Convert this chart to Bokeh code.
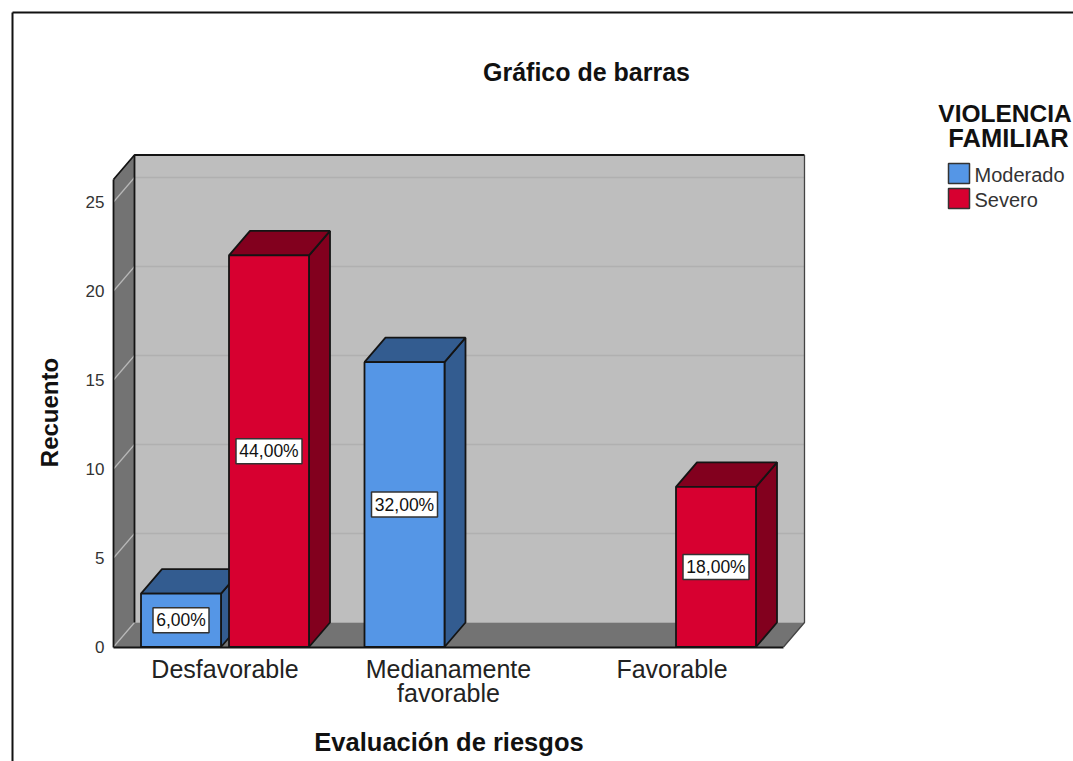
from math import pi
from bokeh.plotting import figure
from bokeh.models import Range1d, FixedTicker
from bokeh.core.properties import value
from bokeh.embed import file_html
from bokeh.resources import INLINE

# ---- data ----
categories = ["Desfavorable", "Medianamente\nfavorable", "Favorable"]
series_names = ["Moderado", "Severo"]
moderado = [3, 16, 0]
severo = [22, 0, 9]
moderado_labels = ["6,00%", "32,00%", ""]
severo_labels = ["44,00%", "", "18,00%"]
y_ticks = [0, 5, 10, 15, 20, 25]
title_text = "Gráfico de barras"
x_title = "Evaluación de riesgos"
y_title = "Recuento"
legend_title = ["VIOLENCIA", "FAMILIAR"]

# ---- style and layout ----
W, H = 1073, 761
PAGE = 0
FONT = value("Liberation Sans")
BLUE, BLUE_D = "#5596E6", "#335C90"
RED, RED_D = "#D70030", "#82001E"
WALL, SIDE = "#BEBEBE", "#737373"
EDGE = "#141414"
px_per_cat, px_per_val = 223.5, 17.8
x0_px, y0_px = 224.5, 646.5


def X(px):
    return (px - x0_px) / px_per_cat


def Y(py):
    return (y0_px - py) / px_per_val


DX = 21 / px_per_cat
DY = 24.5 / px_per_val
BAR = 80 / px_per_cat
OFF = 44 / px_per_cat
AX_L, AX_R = X(113), X(783)
Y_TOP = Y(179)

p = figure(
    width=W, height=H, output_backend="svg", toolbar_location=None,
    x_range=Range1d(X(PAGE), X(PAGE + W)),
    y_range=Range1d(Y(PAGE + H), Y(PAGE)),
    min_border=0, min_border_left=0, min_border_right=0,
    min_border_top=0, min_border_bottom=0,
    background_fill_color="white", border_fill_color="white",
)
p.outline_line_color = None
p.grid.visible = False

# picture frame
p.line([X(12), X(12)], [Y(12), Y(770)], line_color="#111111", line_width=2)
p.line([X(12), X(1080)], [Y(12), Y(12)], line_color="#111111", line_width=2)

# chart box
p.patch([AX_L + DX, AX_R + DX, AX_R + DX, AX_L + DX],
        [DY, DY, Y_TOP + DY, Y_TOP + DY], fill_color=WALL, line_color=None)
p.patch([AX_L, AX_R, AX_R + DX, AX_L + DX], [0, 0, DY, DY], fill_color=SIDE, line_color=None)
p.patch([AX_L, AX_L + DX, AX_L + DX, AX_L], [0, DY, Y_TOP + DY, Y_TOP],
        fill_color=SIDE, line_color=None)
for t in y_ticks:
    p.line([AX_L, AX_L + DX], [t, t + DY], line_color="#B8B8B8", line_width=1.2)
    if t:
        p.line([AX_L + DX, AX_R + DX], [t + DY, t + DY], line_color="#B0B0B0", line_width=1.5)
p.line([AX_L, AX_L + DX, AX_R + DX], [Y_TOP, Y_TOP + DY, Y_TOP + DY], line_color=EDGE, line_width=1.8)
p.line([AX_L + DX, AX_L + DX], [DY, Y_TOP + DY], line_color=EDGE, line_width=1.8)
p.line([AX_R + DX, AX_R + DX, AX_R], [Y_TOP + DY, DY, 0], line_color="#444444", line_width=1.3)


def bar(xc, v, front, dark):
    l, r = xc - BAR / 2, xc + BAR / 2
    p.patch([r, r + DX, r + DX, r], [0, DY, v + DY, v], fill_color=dark, line_color=EDGE, line_width=1.8)
    p.patch([l, l + DX, r + DX, r], [v, v + DY, v + DY, v], fill_color=dark, line_color=EDGE, line_width=1.8)
    p.quad(left=[l], right=[r], bottom=[0], top=[v], fill_color=front, line_color=EDGE, line_width=1.8)


label_w = {"6,00%": 56}
spec = []
for i in range(len(categories)):
    for s, vals, labs, c, d, o in ((0, moderado, moderado_labels, BLUE, BLUE_D, -OFF),
                                   (1, severo, severo_labels, RED, RED_D, OFF)):
        if vals[i] > 0:
            bar(i + o, vals[i], c, d)
            spec.append((i + o, vals[i] / 2, labs[i]))

for xc, yc, lab in spec:
    p.rect([xc], [yc], width=label_w.get(lab, 66), height=25, width_units="screen", height_units="screen",
           fill_color="white", line_color="#333333", line_width=1.5)
    p.text([xc], [yc], text=[lab], text_font=FONT, text_font_size="17.5px", text_color="#111111",
           text_align="center", text_baseline="middle")

# axes
p.xaxis.fixed_location = 0
p.yaxis.fixed_location = AX_L
p.xaxis.bounds = (AX_L, AX_R)
p.yaxis.bounds = (0, Y_TOP)
p.xaxis.ticker = FixedTicker(ticks=list(range(len(categories))))
p.xaxis.major_label_overrides = {i: c for i, c in enumerate(categories)}
p.yaxis.ticker = FixedTicker(ticks=y_ticks)
for ax in (p.xaxis[0], p.yaxis[0]):
    ax.major_tick_line_color = None
    ax.minor_tick_line_color = None
    ax.major_tick_out = 0
    ax.major_tick_in = 0
    ax.axis_line_color = EDGE
    ax.axis_line_width = 1.8
    ax.major_label_text_font = "Liberation Sans"
p.xaxis.major_label_text_font_size = "25px"
p.xaxis.major_label_text_color = "#222222"
p.xaxis.major_label_standoff = 8
p.xaxis.major_label_text_line_height = 0.85
p.yaxis.major_label_text_font_size = "17px"
p.yaxis.major_label_text_color = "#333333"
p.yaxis.major_label_standoff = 9


def txt(px, py, s, size, bold=False, align="center", color="#111111", angle=0):
    p.text([X(px)], [Y(py)], text=[s], text_font=FONT, text_font_size=size,
           text_font_style="bold" if bold else "normal", text_color=color,
           text_align=align, text_baseline="middle", angle=angle)


txt(586, 71, title_text, "25px", True)
txt(448.5, 741, x_title, "25.5px", True)
txt(49, 412, y_title, "24px", True, angle=pi / 2)
txt(1004.5, 113, legend_title[0], "24.5px", True)
txt(1008, 137, legend_title[1], "25.5px", True)

# legend
for name, col, py in zip(series_names, (BLUE, RED), (173, 198)):
    p.quad(left=[X(948)], right=[X(969)], top=[Y(py - 10)], bottom=[Y(py + 10)],
           fill_color=col, line_color="#333333", line_width=1.5)
    txt(974, py + 1, name, "20px", align="left", color="#333333")

open("out.html", "w").write(file_html(p, INLINE))
